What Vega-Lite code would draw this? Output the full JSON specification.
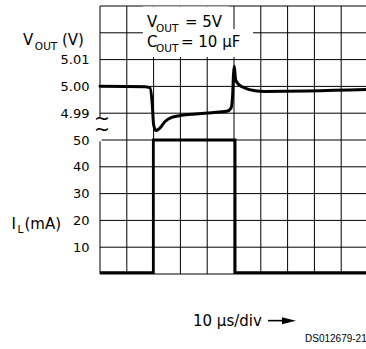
{
  "$schema": "https://vega.github.io/schema/vega-lite/v6.json",
  "width": 266,
  "height": 268,
  "autosize": {"type": "none"},
  "padding": {"left": 100, "top": 6, "right": 0, "bottom": 75},
  "background": "white",
  "config": {
    "view": {"stroke": null},
    "font": "DejaVu Sans",
    "axis": {"labelFont": "DejaVu Sans", "labelColor": "#000", "labelFontSize": 13, "title": null, "labelOverlap": false}
  },
  "resolve": {"scale": {"y": "independent"}, "axis": {"y": "independent"}},
  "layer": [
    {
      "layer": [
        {
          "data": {"values": [
            {"t": 0}, {"t": 10}, {"t": 20}, {"t": 30}, {"t": 40}, {"t": 50}, {"t": 60}, {"t": 70}, {"t": 80}, {"t": 90}
          ]},
          "mark": {"type": "rule", "color": "#000", "strokeWidth": 1},
          "encoding": {
            "x": {"field": "t", "type": "quantitative", "scale": {"domain": [0, 99.25], "nice": false, "zero": false}, "axis": null}
          }
        },
        {
          "data": {"values": [
            {"mA": 0}, {"mA": 10}, {"mA": 20}, {"mA": 30}, {"mA": 40}, {"mA": 50}, {"mA": 60}, {"mA": 70}, {"mA": 80}, {"mA": 90}, {"mA": 100}
          ]},
          "mark": {"type": "rule", "color": "#000", "strokeWidth": 1},
          "encoding": {
            "y": {"field": "mA", "type": "quantitative", "scale": {"domain": [0, 100], "nice": false, "zero": false},
              "axis": {"orient": "left", "values": [10, 20, 30, 40, 50], "format": "d", "grid": false, "ticks": false, "tickSize": 0, "domain": false, "labelPadding": 11, "labelOverlap": false, "title": null}}
          }
        },
        {
          "data": {"values": [
            {"t": 16.0, "t2": 48.1, "mA": 99.8, "mA2": 81.0},
            {"t": 48.1, "t2": 57.1, "mA": 91.4, "mA2": 81.0},
            {"t": -0.6, "t2": 0.6, "mA": 58.6, "mA2": 49.5}
          ]},
          "mark": {"type": "rect", "fill": "white", "stroke": null},
          "encoding": {
            "x": {"field": "t", "type": "quantitative", "scale": {"domain": [0, 99.25], "nice": false, "zero": false}, "axis": null},
            "x2": {"field": "t2"},
            "y": {"field": "mA", "type": "quantitative", "scale": {"domain": [0, 100], "nice": false, "zero": false}},
            "y2": {"field": "mA2"}
          }
        },
        {
          "data": {"values": [
            {"t": 0, "mA": 0.5},
            {"t": 19.9, "mA": 50},
            {"t": 50.4, "mA": 0.5},
            {"t": 99.3, "mA": 0.5}
          ]},
          "mark": {"type": "line", "interpolate": "step-after", "color": "#000", "strokeWidth": 2.8},
          "encoding": {
            "x": {"field": "t", "type": "quantitative", "scale": {"domain": [0, 99.25], "nice": false, "zero": false}, "axis": null},
            "y": {"field": "mA", "type": "quantitative", "scale": {"domain": [0, 100], "nice": false, "zero": false}}
          }
        },
        {
          "data": {"values": [
            {"t": 0.75, "mA": 57.8, "label": "~"},
            {"t": 0.75, "mA": 53.7, "label": "~"}
          ]},
          "mark": {"type": "text", "align": "center", "baseline": "middle", "fontSize": 19, "font": "DejaVu Sans", "color": "#000"},
          "encoding": {
            "x": {"field": "t", "type": "quantitative", "scale": {"domain": [0, 99.25], "nice": false, "zero": false}, "axis": null},
            "y": {"field": "mA", "type": "quantitative", "scale": {"domain": [0, 100], "nice": false, "zero": false}},
            "text": {"field": "label"}
          }
        },
        {
          "data": {"values": [
            {"t": -28.7, "mA": 85.4, "label": "V"},
            {"t": -14.2, "mA": 85.4, "label": "(V)"},
            {"t": -33.0, "mA": 16.8, "label": "I"},
            {"t": -28.2, "mA": 16.8, "label": "(mA)"},
            {"t": 17.5, "mA": 92.2, "label": "V"},
            {"t": 31.7, "mA": 92.2, "label": "= 5V"},
            {"t": 17.5, "mA": 84.7, "label": "C"},
            {"t": 30.2, "mA": 84.7, "label": "= 10 μF"},
            {"t": 34.7, "mA": -19.4, "label": "10 μs/div"}
          ]},
          "mark": {"type": "text", "align": "left", "baseline": "alphabetic", "fontSize": 15, "font": "DejaVu Sans", "color": "#000"},
          "encoding": {
            "x": {"field": "t", "type": "quantitative", "scale": {"domain": [0, 99.25], "nice": false, "zero": false}, "axis": null},
            "y": {"field": "mA", "type": "quantitative", "scale": {"domain": [0, 100], "nice": false, "zero": false}},
            "text": {"field": "label"}
          }
        },
        {
          "data": {"values": [
            {"t": -24.3, "mA": 83.6, "label": "OUT"},
            {"t": -30.8, "mA": 15.3, "label": "L"},
            {"t": 20.9, "mA": 90.3, "label": "OUT"},
            {"t": 20.9, "mA": 82.8, "label": "OUT"}
          ]},
          "mark": {"type": "text", "align": "left", "baseline": "alphabetic", "fontSize": 10.5, "font": "DejaVu Sans", "color": "#000"},
          "encoding": {
            "x": {"field": "t", "type": "quantitative", "scale": {"domain": [0, 99.25], "nice": false, "zero": false}, "axis": null},
            "y": {"field": "mA", "type": "quantitative", "scale": {"domain": [0, 100], "nice": false, "zero": false}},
            "text": {"field": "label"}
          }
        },
        {
          "data": {"values": [
            {"t": 76.5, "mA": -25.4, "label": "DS012679-21"}
          ]},
          "mark": {"type": "text", "align": "left", "baseline": "alphabetic", "fontSize": 10, "font": "Liberation Sans", "color": "#000"},
          "encoding": {
            "x": {"field": "t", "type": "quantitative", "scale": {"domain": [0, 99.25], "nice": false, "zero": false}, "axis": null},
            "y": {"field": "mA", "type": "quantitative", "scale": {"domain": [0, 100], "nice": false, "zero": false}},
            "text": {"field": "label"}
          }
        },
        {
          "data": {"values": [
            {"t": 62.7, "t2": 69.0, "mA": -17.4}
          ]},
          "mark": {"type": "rule", "color": "#000", "strokeWidth": 1.6},
          "encoding": {
            "x": {"field": "t", "type": "quantitative", "scale": {"domain": [0, 99.25], "nice": false, "zero": false}, "axis": null},
            "x2": {"field": "t2"},
            "y": {"field": "mA", "type": "quantitative", "scale": {"domain": [0, 100], "nice": false, "zero": false}}
          }
        },
        {
          "data": {"values": [
            {"t": 70.5, "mA": -17.4}
          ]},
          "mark": {"type": "point", "shape": "M-1,-0.5L1,0L-1,0.5Z", "size": 196, "filled": true, "color": "#000", "opacity": 1},
          "encoding": {
            "x": {"field": "t", "type": "quantitative", "scale": {"domain": [0, 99.25], "nice": false, "zero": false}, "axis": null},
            "y": {"field": "mA", "type": "quantitative", "scale": {"domain": [0, 100], "nice": false, "zero": false}}
          }
        }
      ]
    },
    {
      "data": {"values": [
        {"t": 0, "V": 5.0001},
        {"t": 16.8, "V": 4.9999},
        {"t": 18.66, "V": 4.9994},
        {"t": 19.5, "V": 4.9933},
        {"t": 20.0, "V": 4.9857},
        {"t": 20.9, "V": 4.9835},
        {"t": 22.4, "V": 4.9845},
        {"t": 24.3, "V": 4.9869},
        {"t": 26.75, "V": 4.9884},
        {"t": 30.5, "V": 4.9892},
        {"t": 35.4, "V": 4.9897},
        {"t": 41.7, "V": 4.9902},
        {"t": 47.3, "V": 4.9907},
        {"t": 48.9, "V": 4.9919},
        {"t": 49.5, "V": 4.9969},
        {"t": 49.8, "V": 5.0044},
        {"t": 50.1, "V": 5.0075},
        {"t": 50.6, "V": 5.0025},
        {"t": 51.9, "V": 5.0006},
        {"t": 54.1, "V": 4.9994},
        {"t": 57.8, "V": 4.9984},
        {"t": 61.6, "V": 4.9981},
        {"t": 99.3, "V": 4.9988}
      ]},
      "mark": {"type": "line", "interpolate": "monotone", "color": "#000", "strokeWidth": 3, "strokeCap": "round"},
      "encoding": {
        "x": {"field": "t", "type": "quantitative", "scale": {"domain": [0, 99.25], "nice": false, "zero": false}, "axis": null},
        "y": {"field": "V", "type": "quantitative", "scale": {"domain": [4.93, 5.03], "nice": false, "zero": false},
          "axis": {"orient": "left", "values": [4.99, 5.0, 5.01], "format": ".2f", "grid": false, "ticks": false, "tickSize": 0, "domain": false, "labelPadding": 11, "labelOverlap": false, "title": null}}
      }
    }
  ]
}
